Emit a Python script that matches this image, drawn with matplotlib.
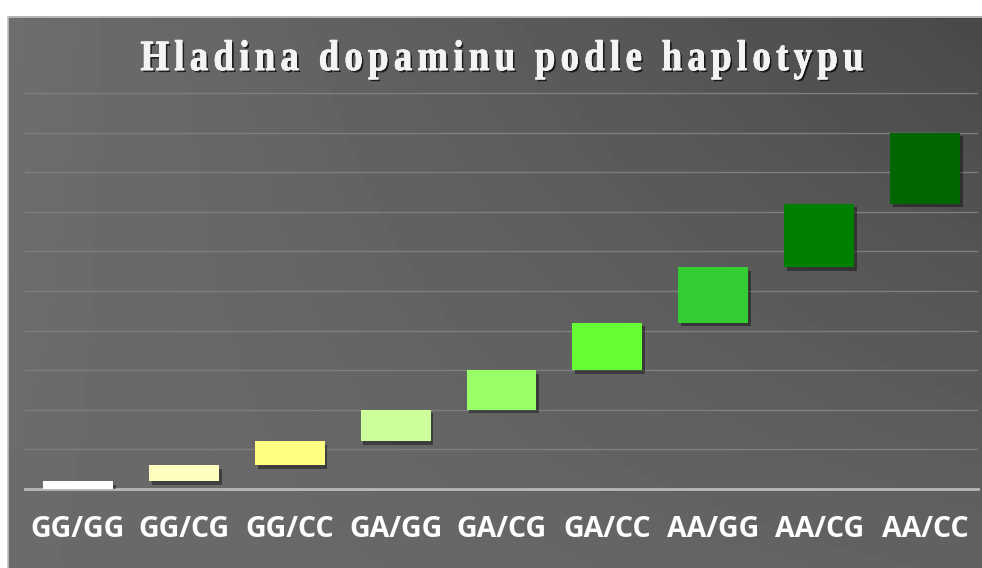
import numpy as np
import matplotlib.pyplot as plt
import matplotlib.patheffects as pe
from matplotlib.textpath import TextPath
from matplotlib.font_manager import FontProperties, findfont, get_font
from matplotlib.patches import PathPatch
from matplotlib.transforms import Affine2D

# Data (floating bars, each starts where the previous ends)
haplotypes = ['GG/GG', 'GG/CG', 'GG/CC', 'GA/GG', 'GA/CG', 'GA/CC', 'AA/GG', 'AA/CG', 'AA/CC']
increments = [0.2, 0.4, 0.6, 0.8, 1.0, 1.2, 1.4, 1.6, 1.8]
bar_colors = ['#ffffff', '#ffffc0', '#ffff80', '#ccff99', '#99ff66',
              '#66ff33', '#33cc33', '#008000', '#006600']
title = 'Hladina dopaminu podle haplotypu'

W, H = 982, 568
fig = plt.figure(figsize=(W / 100, H / 100), dpi=100)
fig.patch.set_facecolor('white')

# background panel in pixel coordinates
bg = fig.add_axes([0, 0, 1, 1], zorder=0)
corners = np.array([[110, 73], [107, 98]]) / 255.0  # top-left, top-right / bottom-left, bottom-right
u, v = np.meshgrid(np.linspace(0, 1, 200), np.linspace(0, 1, 120))
grad = (corners[0, 0] * (1 - u) * (1 - v) + corners[0, 1] * u * (1 - v)
        + corners[1, 0] * (1 - u) * v + corners[1, 1] * u * v)
bg.imshow(grad, cmap='gray', vmin=0, vmax=1, extent=[8, W, H, 16],
          aspect='auto', interpolation='bilinear')
bg.plot([8.5, 8.5], [H, 16.5], color='#c4c4c4', lw=1.2)
bg.plot([8.5, W], [16.5, 16.5], color='#c4c4c4', lw=1.2)
bg.set_xlim(0, W)
bg.set_ylim(H, 0)
bg.axis('off')

# title: condensed, letter-spaced serif with a drop shadow
fp = FontProperties(family='Liberation Serif', weight='bold')
size = 43
font = get_font(findfont(fp))
font.set_size(size, 72)
sx, track = 0.85, 5.4
adv = [font.load_char(ord(c)).linearHoriAdvance / 65536 * sx for c in title]
total = sum(adv) + track * (len(title) - 1)
xpos = 502 - total / 2
baseline = 70
for c, a in zip(title, adv):
    if c != ' ':
        p = TextPath((0, 0), c, size=size, prop=fp)
        p = Affine2D().scale(sx, -1).translate(xpos, baseline).transform_path(p)
        patch = PathPatch(p, fc='#f4f4f4', ec='#f4f4f4', lw=0.5)
        patch.set_path_effects([pe.withSimplePatchShadow(offset=(1.5, -1.5), shadow_rgbFace='black', alpha=0.7),
                                pe.Normal()])
        bg.add_patch(patch)
    xpos += a + track

# main chart
ax = fig.add_axes([25 / W, (H - 489) / H, 953 / W, 400 / H], zorder=1)
ax.patch.set_alpha(0)
x = np.arange(len(haplotypes))
tops = np.cumsum(increments)
bottoms = tops - np.array(increments)
bars = ax.bar(x, increments, bottom=bottoms, width=0.66, color=bar_colors, zorder=3)
for b in bars:
    b.set_path_effects([pe.withSimplePatchShadow(offset=(2, -2.5), shadow_rgbFace='black', alpha=0.4),
                        pe.Normal()])

ax.set_xlim(-0.5, 8.5)
ax.set_ylim(0, 10.1)
ax.set_yticks(np.arange(0, 11))
ax.yaxis.grid(True, color='#7e7e7e', lw=1)
ax.set_axisbelow(True)
for s in ['top', 'right', 'left']:
    ax.spines[s].set_visible(False)
ax.spines['bottom'].set_color('#b8b8b8')
ax.spines['bottom'].set_linewidth(2)
ax.set_xticks(x)
ax.set_xticklabels(haplotypes, fontfamily='Open Sans', fontweight='bold', fontsize=20.5, color='white')
ax.tick_params(left=False, labelleft=False, bottom=False, pad=15)

fig.savefig('out.png', dpi=100)
